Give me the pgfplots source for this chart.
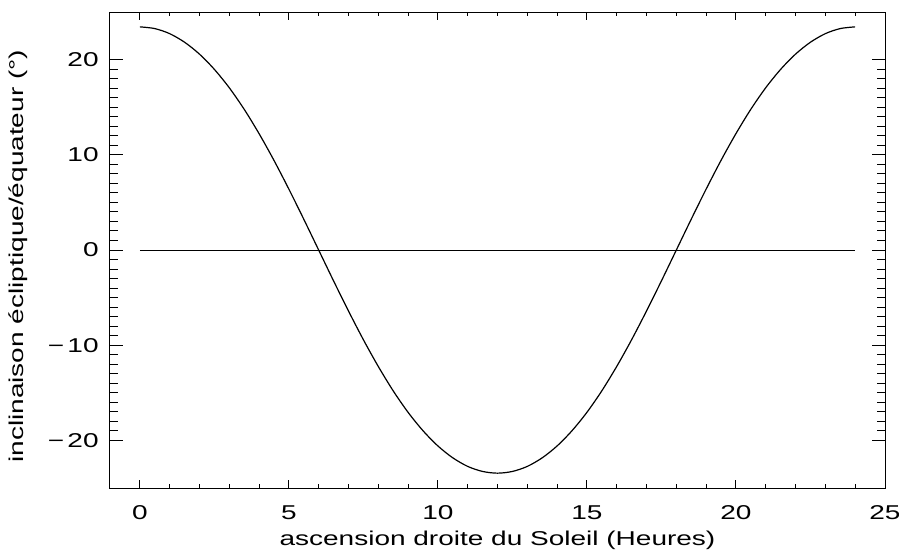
\documentclass[border=0pt]{standalone}
\usepackage{fontspec}
\setmainfont{Liberation Sans}[FakeStretch=1.4]
\usepackage{pgfplots}
\pgfplotsset{compat=1.18}
\begin{document}
\begin{tikzpicture}
\path[use as bounding box] (-55pt,-33pt) rectangle (394.5pt,244pt);
\begin{axis}[
  at={(0,0)}, anchor=south west,
  scale only axis, width=387.5pt, height=238pt,
  xmin=-1, xmax=25, ymin=-25, ymax=25,
  xtick={0,5,10,15,20,25},
  ytick={-20,-10,0,10,20},
  yticklabels={−\,20,−\,10,0,10,20},
  minor x tick num=4, minor y tick num=9,
  tick align=inside,
  xtick style={/pgfplots/major tick length=4.2pt,/pgfplots/minor tick length=2pt},
  ytick style={/pgfplots/major tick length=6.7pt,/pgfplots/minor tick length=3.8pt},
  axis line style={line width=0.5pt},
  every tick/.style={black, line width=0.5pt},
  /pgf/number format/assume math mode=true,
  tick label style={font=\fontsize{10}{12}\selectfont},
  label style={font=\fontsize{10}{12}\selectfont},
  xticklabel style={anchor=base, yshift=-15.5pt},
  yticklabel style={anchor=east, inner sep=0pt, xshift=-5.5pt},
  xlabel={ascension droite du Soleil (Heures)},
  ylabel={inclinaison écliptique/équateur (°)},
  xlabel style={at={(axis description cs:0.5,-0.1092)}, anchor=center},
  ylabel style={at={(axis description cs:-0.1187,0.487)}, anchor=center, rotate=0},
]
\addplot[black, line width=0.6pt, smooth] coordinates {
(0,23.44) (0.5,23.26) (1,22.73) (1.5,21.83) (2,20.58) (2.5,18.98) (3,17.05) (3.5,14.79)
(4,12.23) (4.5,9.42) (5,6.40) (5.5,3.24) (6,0) (6.5,-3.24) (7,-6.40) (7.5,-9.42)
(8,-12.23) (8.5,-14.79) (9,-17.05) (9.5,-18.98) (10,-20.58) (10.5,-21.83) (11,-22.73) (11.5,-23.26)
(12,-23.44) (12.5,-23.26) (13,-22.73) (13.5,-21.83) (14,-20.58) (14.5,-18.98) (15,-17.05) (15.5,-14.79)
(16,-12.23) (16.5,-9.42) (17,-6.40) (17.5,-3.24) (18,0) (18.5,3.24) (19,6.40) (19.5,9.42)
(20,12.23) (20.5,14.79) (21,17.05) (21.5,18.98) (22,20.58) (22.5,21.83) (23,22.73) (23.5,23.26)
(24,23.44)
};
\addplot[black, line width=0.5pt] coordinates {(0,0) (24,0)};
\end{axis}
\end{tikzpicture}
\end{document}
